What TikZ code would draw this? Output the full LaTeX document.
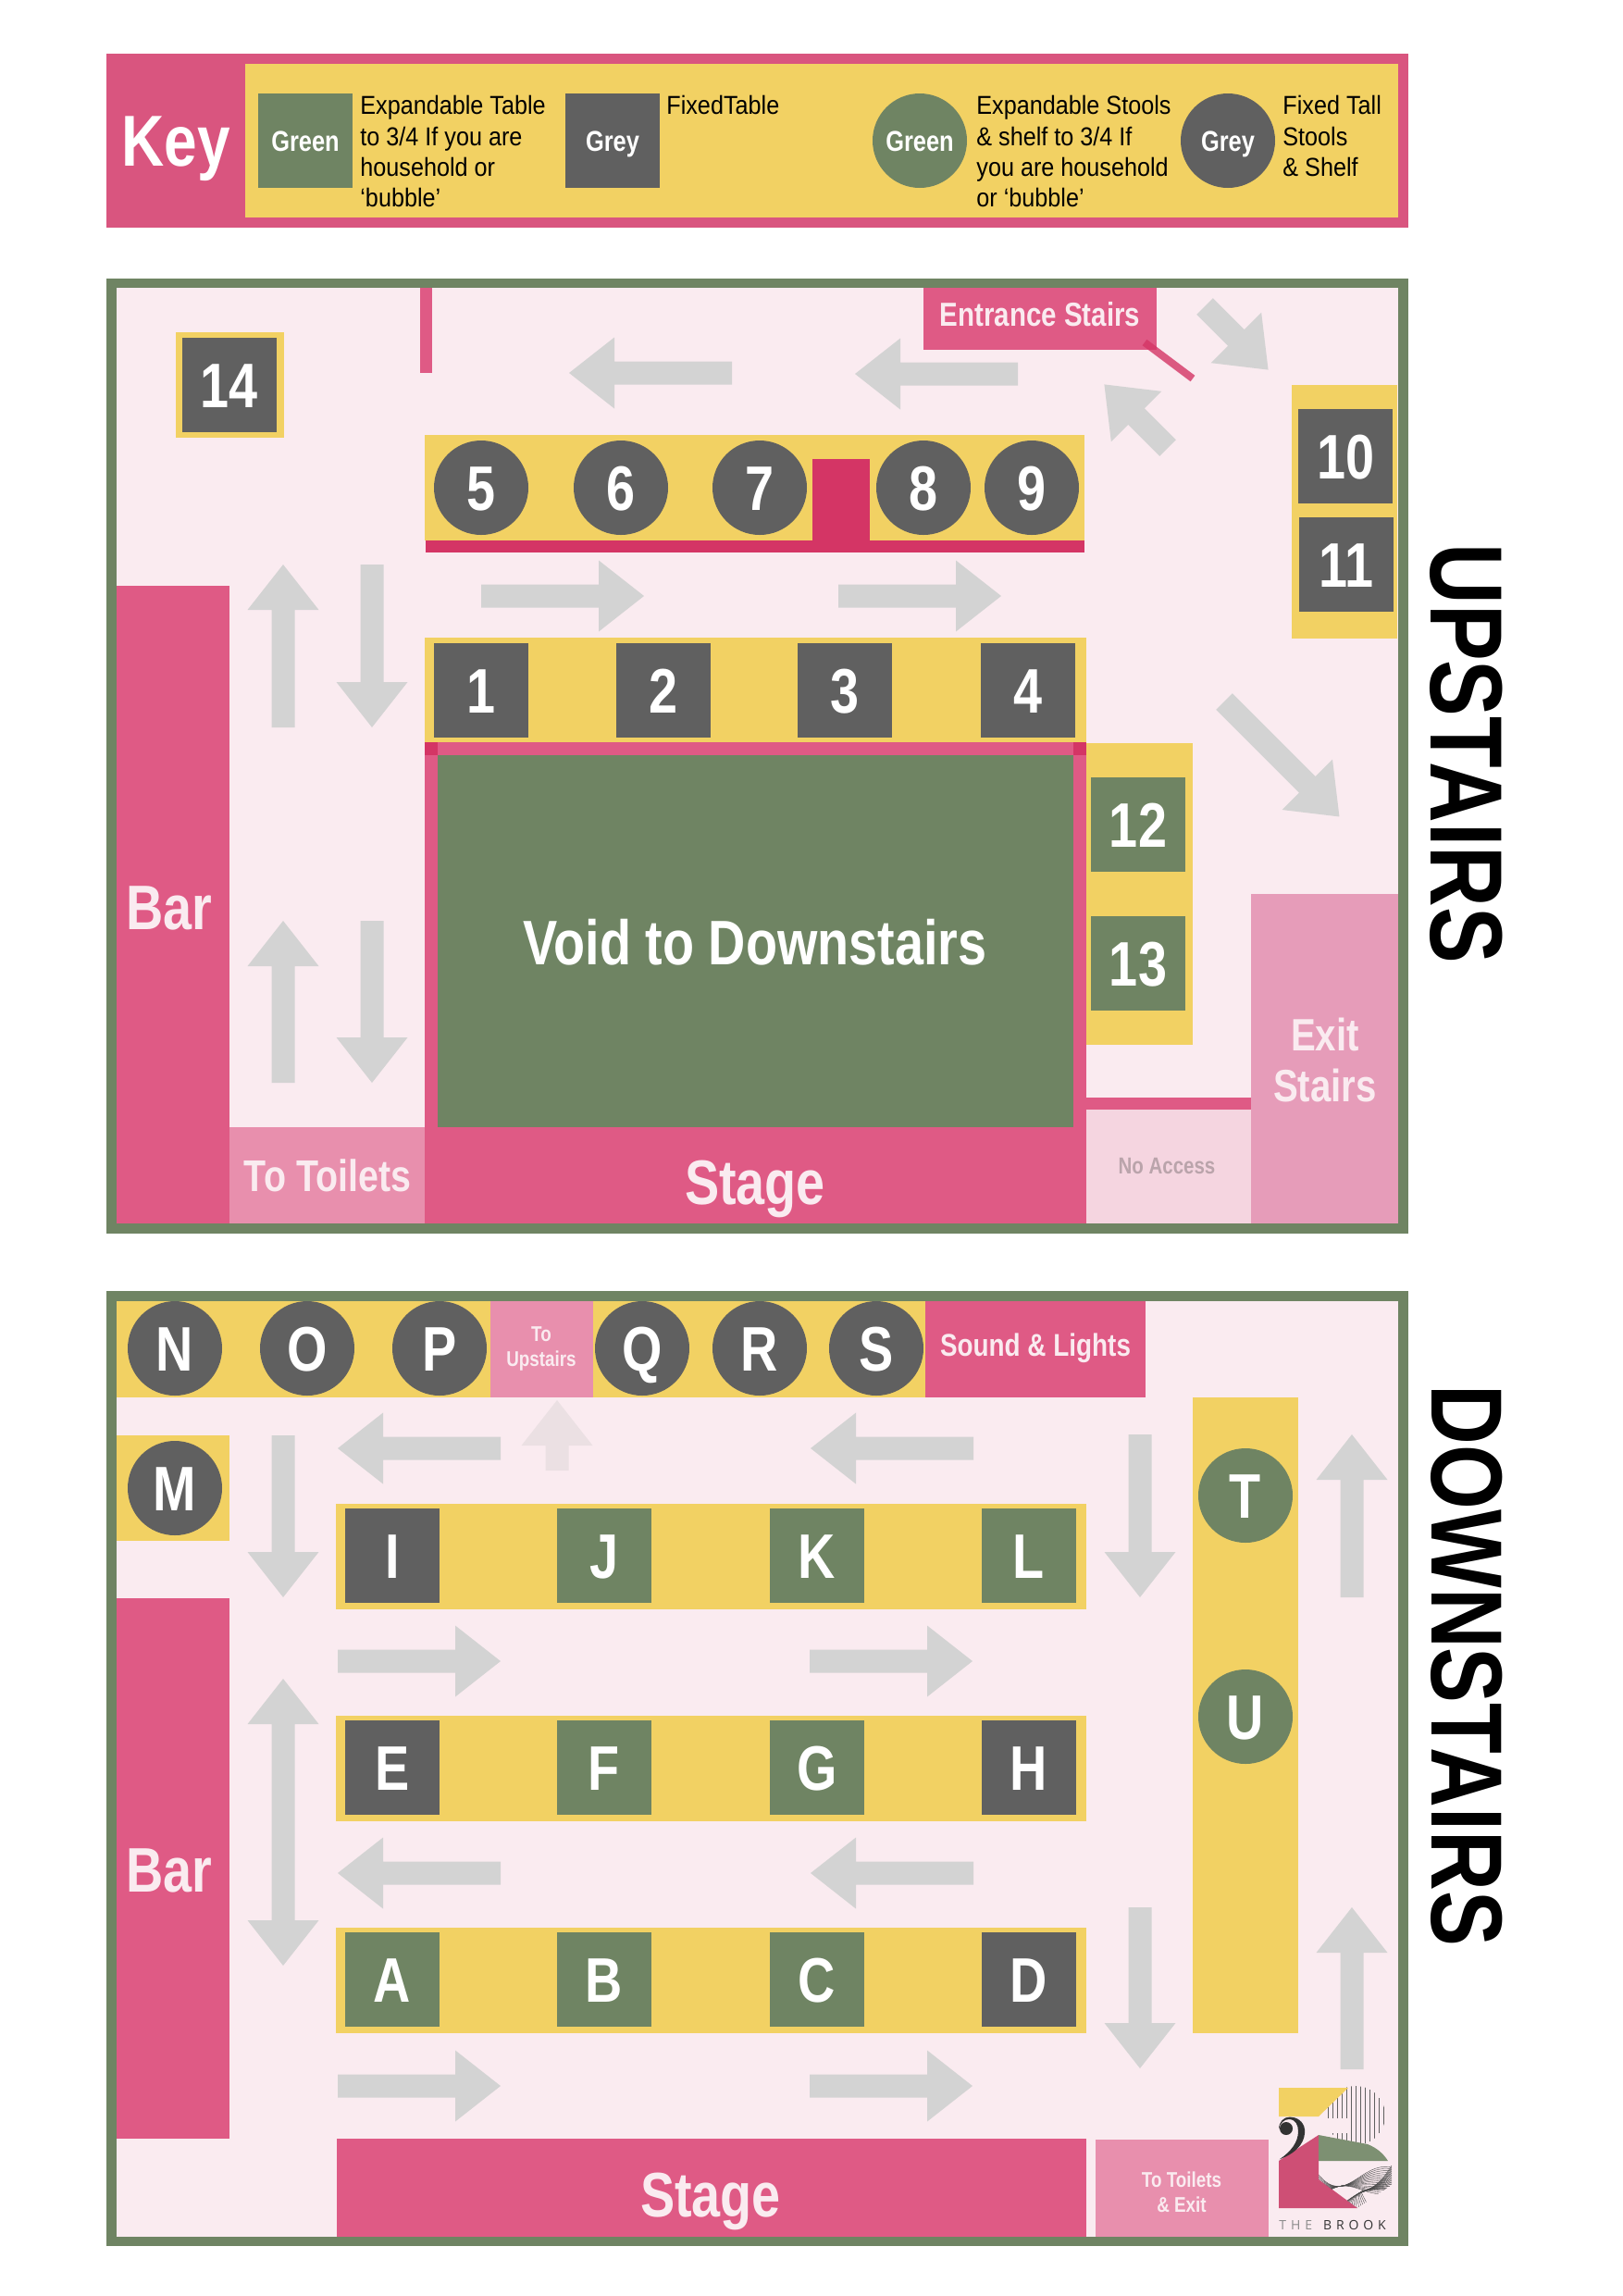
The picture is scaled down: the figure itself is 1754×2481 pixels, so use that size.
\documentclass[tikz,border=0pt]{standalone}
\usepackage{fontspec}
\usepackage{tikz}
\setmainfont[FakeStretch=0.82]{Liberation Sans}
\newfontfamily\keyfont[FakeStretch=0.9]{Liberation Sans}
\newfontfamily\logofont[LetterSpace=35]{Open Sans}
\definecolor{framegreen}{HTML}{6F8463}
\definecolor{tableyellow}{HTML}{F2D163}
\definecolor{barpink}{HTML}{DF5A85}
\definecolor{keypink}{HTML}{D9557F}
\definecolor{wallpink}{HTML}{D43565}
\definecolor{floorpink}{HTML}{FAEBF0}
\definecolor{tablegrey}{HTML}{606060}
\definecolor{flowgrey}{HTML}{D3D3D3}
\definecolor{fadedgrey}{HTML}{EBE0E3}
\definecolor{exitpink}{HTML}{E69CB9}
\definecolor{toiletpink}{HTML}{E88FAD}
\definecolor{noaccess}{HTML}{F5D5E0}
\definecolor{logopink}{HTML}{CE4F75}
\newcommand{\labelsize}[1]{\fontsize{#1}{#1}\selectfont}
\newcommand{\flowarrow}[5][flowgrey]{\fill[#1,shift={(#2,#3)},rotate=#4] (0,-12.5) -- ({#5-49},-12.5) -- ({#5-49},-38.5) -- (#5,0) -- ({#5-49},38.5) -- ({#5-49},12.5) -- (0,12.5) -- cycle;}
\tikzset{
    fixedtable/.style={fill=tablegrey,text=white,minimum size=51pt,inner sep=0pt,text height=24.4pt,text depth=0pt,font=\bfseries\labelsize{34pt}},
    opentable/.style={fixedtable,fill=framegreen},
    fixedstool/.style={fixedtable,circle},
    openstool/.style={opentable,circle},
    keyname/.style={text height=11pt,font=\bfseries\labelsize{15.5pt}},
    roomlabel/.style={text=floorpink,font=\bfseries\labelsize{34pt},align=center,inner sep=0pt},
    keytext/.style={anchor=north west,align=left,inner sep=0pt,font=\keyfont\fontsize{14pt}{16.7pt}\selectfont},
    floorname/.style={rotate=-90,inner sep=0pt,font=\bfseries\labelsize{55.5pt}}
}
\begin{document}
\begin{tikzpicture}[x=0.5pt,y=-0.5pt]
            \useasboundingbox (0,0) rectangle (1754,2481);
            % key
            \fill[keypink] (115,58) rectangle (1522,246);
            \fill[tableyellow] (265,69) rectangle (1511,235);
            \node[roomlabel,text=white,font=\bfseries\labelsize{39pt}] (keytitle) at (190,161) {Key};
            \node[opentable,keyname] (keygreentable) at (330,152) {Green};
            \node[fixedtable,keyname] (keygreytable) at (662,152) {Grey};
            \node[openstool,keyname] (keygreenstool) at (994,152) {Green};
            \node[fixedstool,keyname] (keygreystool) at (1327,152) {Grey};
            \node[keytext] (keytexta) at (389,103) {Expandable Table\\to 3/4 If you are\\household or\\‘bubble’};
            \node[keytext] (keytextb) at (720,103) {FixedTable};
            \node[keytext] (keytextc) at (1055,103) {Expandable Stools\\\& shelf to 3/4 If\\you are household\\or ‘bubble’};
            \node[keytext] (keytextd) at (1386,103) {Fixed Tall\\Stools\\\& Shelf};
            % upstairs
            \fill[framegreen] (115,301) rectangle (1522,1333);
            \fill[floorpink] (126,311) rectangle (1511,1322);
            \fill[barpink] (454,311) rectangle (467,403);
            \fill[tableyellow] (190,359) rectangle (307,473);
            \fill[tableyellow] (459,470) rectangle (1172,584);
            \fill[wallpink] (460,584) rectangle (1172,597);
            \fill[wallpink] (878,496) rectangle (940,584);
            \fill[tableyellow] (459,689) rectangle (1174,802);
            \fill[tableyellow] (1174,803) rectangle (1289,1129);
            \fill[tableyellow] (1396,416) rectangle (1510,690);
            \fill[barpink] (459,802) rectangle (1174,1218);
            \fill[wallpink] (459,802) rectangle (473,816);
            \fill[wallpink] (1160,802) rectangle (1174,816);
            \fill[framegreen] (473,816) rectangle (1160,1218);
            \fill[barpink] (126,633) rectangle (248,1322);
            \fill[barpink] (459,1218) rectangle (1174,1322);
            \fill[toiletpink] (248,1218) rectangle (459,1322);
            \fill[noaccess] (1174,1199) rectangle (1352,1322);
            \fill[barpink] (1174,1186) rectangle (1352,1199);
            \fill[exitpink] (1352,966) rectangle (1511,1322);
            \fill[barpink] (998,311) rectangle (1250,378);
            \draw[wallpink,opacity=0.8,line width=4pt] (1237,370) -- (1289,409);
            \flowarrow{1100}{404}{180}{176}
            \flowarrow{791}{403}{180}{176}
            \flowarrow{520}{644}{0}{176}
            \flowarrow{906}{644}{0}{176}
            \flowarrow{1302}{331}{-45}{97}
            \flowarrow{1262}{484}{135}{97}
            \flowarrow{1323}{758}{-45}{176}
            \flowarrow{306}{786}{90}{176}
            \flowarrow{402}{610}{270}{176}
            \flowarrow{306}{1170}{90}{175}
            \flowarrow{402}{995}{270}{175}
            \node[fixedtable] (table14) at (248,416) {14};
            \node[fixedstool] (stool5) at (520,527) {5};
            \node[fixedstool] (stool6) at (671,527) {6};
            \node[fixedstool] (stool7) at (821,527) {7};
            \node[fixedstool] (stool8) at (998,527) {8};
            \node[fixedstool] (stool9) at (1115,527) {9};
            \node[fixedtable] (table1) at (520,746) {1};
            \node[fixedtable] (table2) at (717,746) {2};
            \node[fixedtable] (table3) at (913,746) {3};
            \node[fixedtable] (table4) at (1111,746) {4};
            \node[fixedtable] (table10) at (1454,493) {10};
            \node[fixedtable] (table11) at (1455,610) {11};
            \node[opentable] (table12) at (1230,891) {12};
            \node[opentable] (table13) at (1230,1041) {13};
            \node[roomlabel,text=white] (void) at (816,1018) {Void to Downstairs};
            \node[roomlabel] (barup) at (183,981) {Bar};
            \node[roomlabel] (stageup) at (816,1285) {Stage};
            \node[roomlabel,font=\bfseries\labelsize{24pt}] (toiletsup) at (354,1270) {To Toilets};
            \node[roomlabel,font=\bfseries\labelsize{18pt}] (entrance) at (1124,340) {Entrance Stairs};
            \node[roomlabel,font=\bfseries\labelsize{24.5pt},text depth=0pt] (exit) at (1432,1145) {Exit\\[3pt]Stairs};
            \node[roomlabel,text=black!20!noaccess!85!gray,font=\bfseries\labelsize{12.5pt}] (noaccesslabel) at (1261,1260) {No Access};
            \node[floorname] (upstairs) at (1585,814) {UPSTAIRS};
            % downstairs
            \fill[framegreen] (115,1395) rectangle (1522,2427);
            \fill[floorpink] (126,1406) rectangle (1511,2417);
            \fill[tableyellow] (126,1406) rectangle (1000,1510);
            \fill[tableyellow] (126,1551) rectangle (248,1665);
            \fill[tableyellow] (363,1625) rectangle (1174,1739);
            \fill[tableyellow] (363,1854) rectangle (1174,1968);
            \fill[tableyellow] (363,2083) rectangle (1174,2197);
            \fill[tableyellow] (1289,1510) rectangle (1403,2197);
            \fill[toiletpink] (530,1406) rectangle (641,1510);
            \fill[barpink] (1000,1406) rectangle (1238,1510);
            \fill[barpink] (126,1727) rectangle (248,2311);
            \fill[barpink] (364,2311) rectangle (1174,2417);
            \fill[toiletpink] (1184,2312) rectangle (1371,2417);
            \flowarrow{306}{1551}{270}{175}
            \flowarrow{541}{1565}{180}{176}
            \flowarrow{1052}{1565}{180}{176}
            \flowarrow[fadedgrey]{602}{1589}{90}{76}
            \flowarrow{1232}{1550}{270}{176}
            \flowarrow{1461}{1726}{90}{176}
            \flowarrow{365}{1795}{0}{176}
            \flowarrow{875}{1795}{0}{176}
            \flowarrow{541}{2024}{180}{176}
            \flowarrow{1052}{2024}{180}{176}
            \flowarrow{365}{2254}{0}{176}
            \flowarrow{875}{2254}{0}{176}
            \flowarrow{1232}{2061}{270}{174}
            \flowarrow{1461}{2236}{90}{175}
            \fill[flowgrey] (306,1814) -- (344.5,1863) -- (318.5,1863) -- (318.5,2075) -- (344.5,2075) -- (306,2124) -- (267.5,2075) -- (293.5,2075) -- (293.5,1863) -- (267.5,1863) -- cycle;
            \node[fixedstool] (stoolN) at (189,1457) {N};
            \node[fixedstool] (stoolO) at (332,1457) {O};
            \node[fixedstool] (stoolP) at (475,1457) {P};
            \node[fixedstool] (stoolQ) at (694,1457) {Q};
            \node[fixedstool] (stoolR) at (821,1457) {R};
            \node[fixedstool] (stoolS) at (947,1457) {S};
            \node[fixedstool] (stoolM) at (189,1608) {M};
            \node[openstool] (stoolT) at (1346,1616) {T};
            \node[openstool] (stoolU) at (1346,1855) {U};
            \node[fixedtable] (tableI) at (424,1681) {I};
            \node[opentable] (tableJ) at (653,1681) {J};
            \node[opentable] (tableK) at (883,1681) {K};
            \node[opentable] (tableL) at (1112,1681) {L};
            \node[fixedtable] (tableE) at (424,1910) {E};
            \node[opentable] (tableF) at (653,1910) {F};
            \node[opentable] (tableG) at (883,1910) {G};
            \node[fixedtable] (tableH) at (1112,1910) {H};
            \node[opentable] (tableA) at (424,2139) {A};
            \node[opentable] (tableB) at (653,2139) {B};
            \node[opentable] (tableC) at (883,2139) {C};
            \node[fixedtable] (tableD) at (1112,2139) {D};
            \node[roomlabel,font=\bfseries\labelsize{11.5pt}] (toupstairs) at (585,1457) {To\\[2pt]Upstairs};
            \node[roomlabel,font=\bfseries\labelsize{17pt}] (soundlights) at (1119,1457) {Sound \& Lights};
            \node[roomlabel] (bardown) at (183,2021) {Bar};
            \node[roomlabel] (stagedown) at (768,2379) {Stage};
            \node[roomlabel,font=\bfseries\labelsize{11.5pt}] (toiletsdown) at (1277,2369) {To Toilets\\[2pt]\& Exit};
            \node[floorname,font=\bfseries\labelsize{54.7pt}] (downstairs) at (1585,1800) {DOWNSTAIRS};
            % logo
            \begin{scope}
            \clip (1465,2286) circle[radius=32];
            \foreach \s in {0,...,12} {
                \draw[tablegrey,line width=0.5pt] ({1435+5*\s},2240) -- ({1435+5*\s},2320);
            }
            \end{scope}
            \fill[floorpink] (1420,2289) rectangle (1456,2305);
            \fill[tableyellow] (1382,2256) -- (1457,2256) -- (1425,2287) -- (1382,2287) -- cycle;
            \fill[logopink] (1425,2307) -- (1425,2355) -- (1467,2386) -- (1382,2386) -- (1382,2335) -- cycle;
            \fill[framegreen!90!white] (1425,2307) -- (1478,2317) .. controls (1488,2321) and (1495,2327) .. (1500,2335) -- (1425,2335) -- cycle;
            \fill[black!80] (1382.7,2333.3) .. controls (1405,2325) and (1411,2312) .. (1410,2301) .. controls (1409,2292) and (1401,2287.5) .. (1394,2287.5) .. controls (1387,2287.5) and (1382,2293) .. (1382,2301) .. controls (1383,2294) and (1388,2290) .. (1393,2290) .. controls (1400,2290) and (1403,2296) .. (1403,2303) .. controls (1403,2315) and (1395,2325) .. (1382.7,2333.3) -- cycle;
            \fill[black!80] (1390,2300) circle[radius=7];
            \begin{scope}
            \clip (1425,2335) -- (1505,2340) -- (1505,2360) -- (1467,2386) -- (1425,2355) -- cycle;
            \foreach \s in {0,...,14} {
                \draw[black!70,line width=0.2pt] (1425,{2350+2*\s}) .. controls (1455,{2385-3*\s}) and (1470,{2335+3*\s}) .. (1504,{2342+2*\s});
                \draw[black!70,line width=0.2pt] ({1440+3*\s},2390) .. controls (1460,{2375-2*\s}) and (1475,{2360+2*\s}) .. (1504,{2368-2*\s});
            }
            \end{scope}
            \node[inner sep=0pt,anchor=west,font=\logofont\labelsize{7pt}] (logotext) at (1382,2404) {\textcolor{black!45}{THE}\hspace{6pt}\textcolor{black!80}{BROOK}};
            \end{tikzpicture}
\end{document}
